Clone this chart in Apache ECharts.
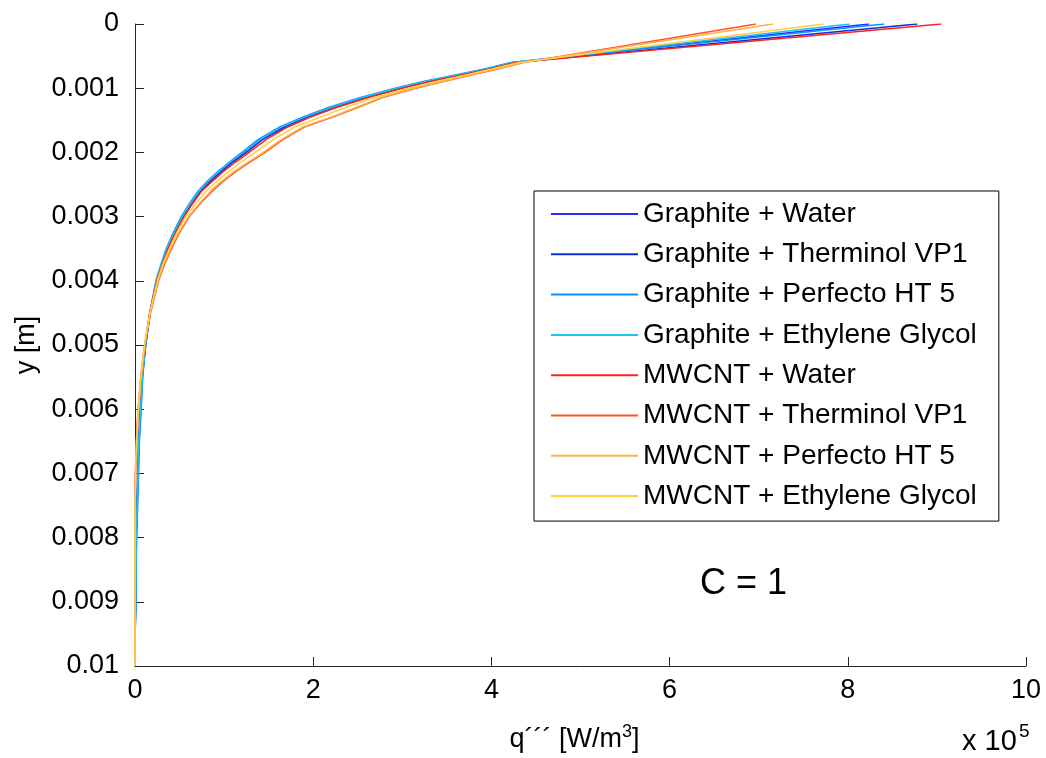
<!DOCTYPE html>
<html>
<head>
<meta charset="utf-8">
<script src="https://cdn.jsdelivr.net/npm/echarts@6/dist/echarts.min.js"></script>
<style>
html,body{margin:0;padding:0;background:#fff;}
#chart{width:1046px;height:758px;}
</style>
</head>
<body>
<div id="chart"></div>
<script>
// depth y [m] shared by all curves
const yDepth = [0, 0.0006, 0.0007, 0.0008, 0.0009, 0.001, 0.00115, 0.0013, 0.00145, 0.0016, 0.0018, 0.002, 0.00215, 0.0023, 0.00245, 0.0026, 0.0028, 0.003, 0.00325, 0.0035, 0.00375, 0.004, 0.0045, 0.005, 0.0055, 0.006, 0.0065, 0.007, 0.0075, 0.008, 0.0085, 0.009, 0.0092, 0.0095, 0.01];

// q''' values in units of 1e5 W/m^3
const graphiteWater     = [8.24, 4.24, 3.95, 3.60, 3.25, 2.95, 2.55, 2.20, 1.90, 1.66, 1.40, 1.22, 1.08, 0.95, 0.83, 0.72, 0.62, 0.53, 0.44, 0.36, 0.30, 0.24, 0.17, 0.12, 0.085, 0.065, 0.045, 0.035, 0.025, 0.016, 0.012, 0.010, 0.006, 0.002, 0];
const graphiteTherminol = [8.78, 4.27, 3.98, 3.63, 3.28, 2.98, 2.58, 2.23, 1.93, 1.69, 1.43, 1.25, 1.10, 0.97, 0.85, 0.74, 0.635, 0.545, 0.45, 0.37, 0.305, 0.245, 0.17, 0.12, 0.08, 0.06, 0.04, 0.03, 0.02, 0.014, 0.010, 0.008, 0.004, 0.001, 0];
const graphitePerfecto  = [8.41, 4.22, 3.92, 3.57, 3.22, 2.92, 2.52, 2.17, 1.88, 1.63, 1.38, 1.20, 1.06, 0.93, 0.81, 0.71, 0.61, 0.52, 0.43, 0.35, 0.29, 0.235, 0.165, 0.115, 0.085, 0.07, 0.05, 0.04, 0.03, 0.018, 0.013, 0.010, 0.007, 0.002, 0];
const graphiteGlycol    = [8.02, 4.23, 3.94, 3.59, 3.24, 2.94, 2.54, 2.20, 1.90, 1.65, 1.40, 1.21, 1.07, 0.94, 0.82, 0.72, 0.62, 0.53, 0.44, 0.355, 0.295, 0.24, 0.168, 0.118, 0.082, 0.062, 0.042, 0.032, 0.022, 0.014, 0.010, 0.008, 0.004, 0.001, 0];
const mwcntWater        = [9.05, 4.27, 3.98, 3.64, 3.30, 3.00, 2.61, 2.26, 1.97, 1.72, 1.47, 1.28, 1.13, 0.99, 0.87, 0.75, 0.645, 0.55, 0.455, 0.37, 0.305, 0.245, 0.165, 0.11, 0.065, 0.035, 0.015, 0.005, 0, 0, 0, 0, 0, 0, 0];
const mwcntTherminol    = [6.97, 4.36, 4.07, 3.76, 3.45, 3.15, 2.77, 2.50, 2.22, 1.91, 1.66, 1.46, 1.29, 1.13, 0.99, 0.87, 0.73, 0.61, 0.50, 0.41, 0.33, 0.265, 0.175, 0.11, 0.07, 0.04, 0.02, 0.006, 0, 0, 0, 0, 0, 0, 0];
const mwcntPerfecto     = [7.16, 4.35, 4.05, 3.74, 3.43, 3.13, 2.75, 2.48, 2.20, 1.89, 1.64, 1.44, 1.27, 1.11, 0.97, 0.85, 0.72, 0.60, 0.49, 0.40, 0.32, 0.26, 0.17, 0.105, 0.065, 0.035, 0.016, 0.004, 0, 0, 0, 0, 0, 0, 0];
const mwcntGlycol       = [7.73, 4.31, 4.01, 3.69, 3.37, 3.07, 2.68, 2.36, 2.08, 1.80, 1.55, 1.35, 1.19, 1.05, 0.92, 0.80, 0.68, 0.57, 0.47, 0.385, 0.31, 0.25, 0.168, 0.108, 0.068, 0.04, 0.018, 0.006, 0, 0, 0, 0, 0, 0, 0];

const seriesNames = ['Graphite + Water', 'Graphite + Therminol VP1', 'Graphite + Perfecto HT 5', 'Graphite + Ethylene Glycol',
                     'MWCNT + Water', 'MWCNT + Therminol VP1', 'MWCNT + Perfecto HT 5', 'MWCNT + Ethylene Glycol'];
const seriesValues = [graphiteWater, graphiteTherminol, graphitePerfecto, graphiteGlycol,
                      mwcntWater, mwcntTherminol, mwcntPerfecto, mwcntGlycol];
const seriesColors = ['#2a2aff', '#0a30d8', '#0a90ff', '#20c0f0', '#ff2020', '#ff5528', '#ffb048', '#ffd040'];

const xTicks = [0, 2, 4, 6, 8, 10];

const FONT = '"Liberation Sans", Arial, sans-serif';
const chart = echarts.init(document.getElementById('chart'), null, {renderer: 'canvas'});

const series = seriesNames.map((name, i) => ({
  name: name,
  type: 'line',
  symbol: 'none',
  showSymbol: false,
  animation: false,
  lineStyle: {color: seriesColors[i], width: 1.5},
  itemStyle: {color: seriesColors[i]},
  data: yDepth.map((y, k) => [seriesValues[i][k], y])
}));

chart.setOption({
  backgroundColor: '#fff',
  animation: false,
  textStyle: {fontFamily: FONT},
  grid: {left: 135, right: 20, top: 24, bottom: 86, containLabel: false},
  xAxis: {
    type: 'value', min: xTicks[0], max: xTicks[xTicks.length - 1], interval: 2,
    position: 'bottom',
    axisLine: {onZero: false, lineStyle: {color: '#262626', width: 1}},
    axisTick: {inside: true, length: 9, lineStyle: {color: '#262626'}},
    axisLabel: {color: '#000', fontSize: 27, fontFamily: FONT, margin: 11},
    splitLine: {show: false},
    name: '{a|q´´´ [W/m}{s|3}{a|]}',
    nameLocation: 'middle', nameGap: 57,
    nameTextStyle: {padding: [0, 12, 0, 0], rich: {
      a: {fontSize: 27, fontFamily: FONT, color: '#000', verticalAlign: 'bottom'},
      s: {fontSize: 18, fontFamily: FONT, color: '#000', verticalAlign: 'top', padding: [0, 0, 12, 0]}
    }}
  },
  yAxis: {
    type: 'value', min: 0, max: 0.01, interval: 0.001, inverse: true,
    position: 'left',
    axisLine: {onZero: false, lineStyle: {color: '#262626', width: 1}},
    axisTick: {inside: true, length: 9, lineStyle: {color: '#262626'}},
    axisLabel: {color: '#000', fontSize: 27, fontFamily: FONT, margin: 16,
      formatter: v => v === 0 ? '0' : String(+v.toFixed(3))},
    splitLine: {show: false},
    name: 'y [m]', nameLocation: 'middle', nameGap: 95, nameRotate: 90,
    nameTextStyle: {fontSize: 27, fontFamily: FONT, color: '#000'}
  },
  legend: {
    orient: 'vertical', left: 534, top: 191,
    data: seriesNames.map(n => ({name: n, icon: 'rect'})),
    itemWidth: 87, itemHeight: 2, itemGap: 10.3,
    padding: [8, 22, 10, 17],
    itemTextGap: 7,
    backgroundColor: '#fff', borderColor: '#000', borderWidth: 1,
    textStyle: {fontSize: 28, lineHeight: 30, fontFamily: FONT, color: '#000'},
    selectedMode: false
  },
  graphic: [
    {type: 'text', left: 700, top: 566, z: 100, style: {text: 'C = 1', fontSize: 36, fontFamily: 'Liberation Sans', fill: '#000'}},
    {type: 'text', left: 962, top: 727, z: 100, style: {text: 'x 10', fontSize: 29, fontFamily: 'Liberation Sans', fill: '#000'}},
    {type: 'text', left: 1019, top: 722, z: 100, style: {text: '5', fontSize: 19, fontFamily: 'Liberation Sans', fill: '#000'}}
  ],
  series: series
});
</script>
</body>
</html>
